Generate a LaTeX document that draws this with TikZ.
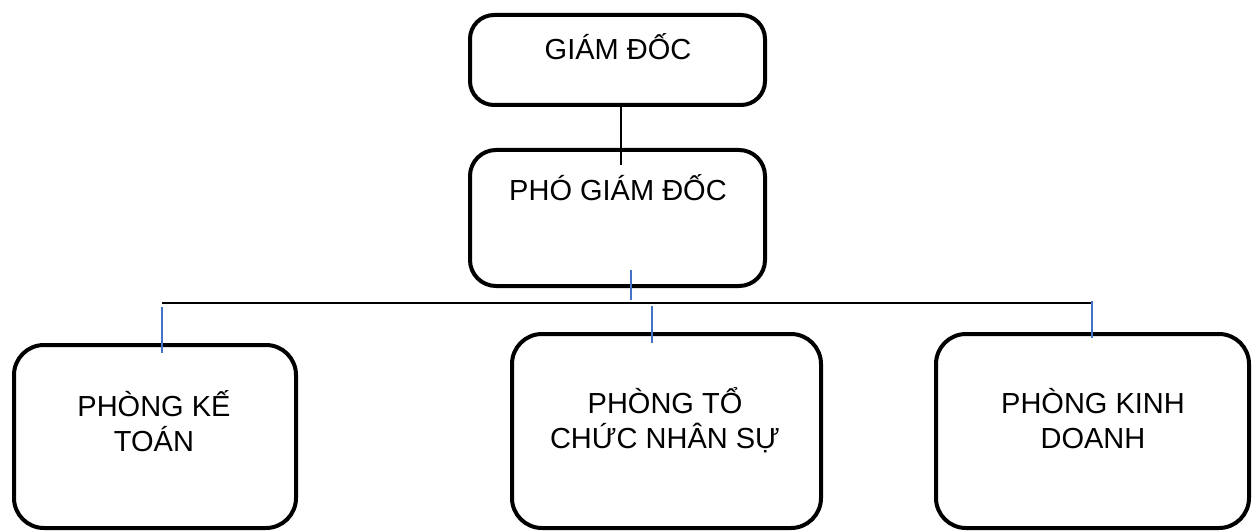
\documentclass[tikz,border=0pt]{standalone}
\usepackage{fontspec}
\setmainfont{Liberation Sans}
\definecolor{tickblue}{RGB}{68,114,196}
\begin{document}
\begin{tikzpicture}[x=1pt,y=-1pt,
  box/.style={draw=black, line width=4pt, rounded corners=#1, minimum width=0pt, minimum height=0pt, inner sep=0pt, rectangle},
  lbl/.style={font=\fontsize{29}{35}\selectfont, align=center, inner sep=0pt},
  blk/.style={draw=black, line width=1.5pt},
  blu/.style={draw=tickblue, line width=1.3pt}]
\useasboundingbox (0,0) rectangle (1253,532);
% boxes
\node[box=24pt, minimum width=295pt, minimum height=90pt] (gd) at (617.5,60) {};
\node[box=26pt, minimum width=295pt, minimum height=136pt] (pgd) at (617.5,218) {};
\node[box=30pt, minimum width=282pt, minimum height=183pt] (kt) at (155,436.5) {};
\node[box=30pt, minimum width=309pt, minimum height=194pt] (tc) at (666.5,431) {};
\node[box=30pt, minimum width=313pt, minimum height=194pt] (kd) at (1092.5,431) {};
% texts
\node[lbl] (tgd) at (618,47) {GIÁM ĐỐC};
\node[lbl] (tpgd) at (618,188) {PHÓ GIÁM ĐỐC};
\node[lbl] (tkt) at (154,421) {PHÒNG KẾ\\TOÁN};
\node[lbl] (ttc) at (665,420) {PHÒNG TỔ\\CHỨC NHÂN SỰ};
\node[lbl] (tkd) at (1093,419) {PHÒNG KINH\\DOANH};
% connector points
\coordinate (c1) at (621,165);
\coordinate (b0a) at (631,270);
\coordinate (b0b) at (631,300);
\coordinate (hl) at (162,303);
\coordinate (hr) at (1092,303);
\coordinate (t1a) at (162,307);
\coordinate (t2a) at (652,306);
\coordinate (t3a) at (1092,301);
% connectors
\draw[blk] (gd.south -| c1) -- (c1);
\draw[blk] (hl) -- (hr);
\draw[blu] (b0a) -- (b0b);
\draw[blu] (t1a) -- ([yshift=-10pt]kt.north -| t1a);
\draw[blu] (t2a) -- ([yshift=-11pt]tc.north -| t2a);
\draw[blu] (t3a) -- ([yshift=-6pt]kd.north -| t3a);
\end{tikzpicture}
\end{document}
